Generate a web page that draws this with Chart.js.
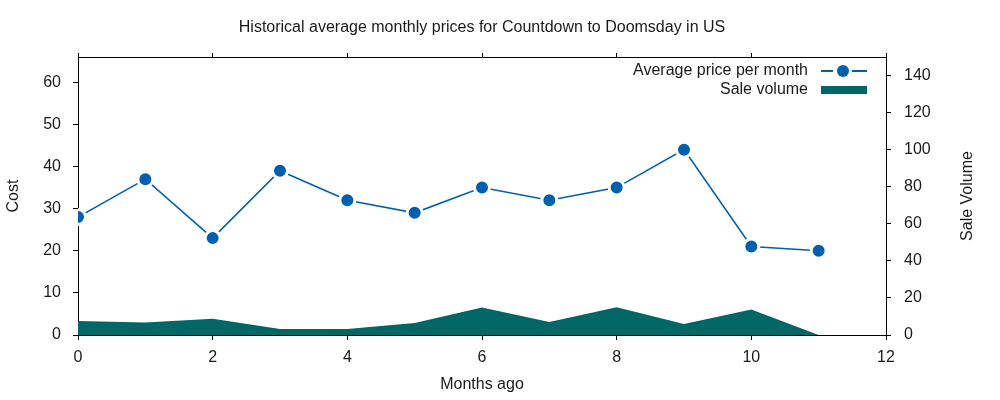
<!DOCTYPE html>
<html>

<head>
  <title>Countdown to Doomsday prices</title>
  <script src="https://cdn.jsdelivr.net/npm/chart.js"></script>
  <style type="text/css">
    html, body {
      margin: 0;
      padding: 0;
      background: #fff;
    }
    .chart-box {
      position: relative;
      width: 1000px;
      height: 400px;
    }
  </style>
</head>

<body>
  <div class="chart-box">
    <canvas id="myChart"></canvas>
  </div>

  <script>
    const monthsAgo = [0, 1, 2, 3, 4, 5, 6, 7, 8, 9, 10, 11];
    const avgPrice = [28, 37, 23, 39, 32, 29, 35, 32, 35, 44, 21, 20];
    const saleVolume = [7.5, 6.8, 8.8, 3.2, 3.2, 6.5, 14.9, 7, 15, 5.9, 13.8, 0];
    const xTicks = [0, 2, 4, 6, 8, 10, 12];
    const costTicks = [0, 10, 20, 30, 40, 50, 60];
    const volumeTicks = [0, 20, 40, 60, 80, 100, 120, 140];

    const chartTitle = 'Historical average monthly prices for Countdown to Doomsday in US';
    const lineColor = '#0060ad';
    const areaColor = '#006666';
    const textColor = '#1a1a1a';
    const fontFamily = '"Liberation Sans", Arial, sans-serif';

    Chart.defaults.font.family = fontFamily;
    Chart.defaults.font.size = 16;
    Chart.defaults.color = textColor;

    // title centred on the plot, right axis title (bottom-to-top), legend inside the plot
    const extras = {
      id: 'extras',
      afterDraw(chart) {
        const ctx = chart.ctx;
        const area = chart.chartArea;
        ctx.save();
        ctx.fillStyle = textColor;
        ctx.font = '16px ' + fontFamily;
        ctx.textAlign = 'center';
        ctx.textBaseline = 'middle';
        ctx.fillText(chartTitle, (area.left + area.right) / 2, 28);

        ctx.save();
        ctx.translate(968, (area.top + area.bottom) / 2);
        ctx.rotate(-Math.PI / 2);
        ctx.fillText('Sale Volume', 0, 0);
        ctx.restore();

        const textRight = area.right - 78;
        const sx0 = area.right - 65;
        const sx1 = area.right - 19;
        const y1 = area.top + 14;
        const y2 = area.top + 33;
        ctx.textAlign = 'right';
        ctx.fillText('Average price per month', textRight, y1);
        ctx.fillText('Sale volume', textRight, y2);

        const mid = (sx0 + sx1) / 2;
        ctx.strokeStyle = lineColor;
        ctx.lineWidth = 1.8;
        ctx.beginPath();
        ctx.moveTo(sx0, y1);
        ctx.lineTo(mid - 11, y1);
        ctx.moveTo(mid + 8, y1);
        ctx.lineTo(sx1, y1);
        ctx.stroke();
        ctx.fillStyle = lineColor;
        ctx.beginPath();
        ctx.arc(mid - 1, y1, 6, 0, Math.PI * 2);
        ctx.fill();

        ctx.fillStyle = areaColor;
        ctx.fillRect(sx0, y2 - 4, sx1 - sx0, 8);
        ctx.restore();
      }
    };

    const axisGrid = {
      drawOnChartArea: false,
      drawTicks: true,
      tickLength: 5,
      color: '#000'
    };
    const axisBorder = { display: true, color: '#000', width: 1 };

    var ctx = document.getElementById('myChart').getContext('2d');
    var myChart = new Chart(ctx, {
      type: 'line',
      data: {
        datasets: [{
          label: 'Average price per month',
          data: monthsAgo.map((m, i) => ({ x: m, y: avgPrice[i] })),
          yAxisID: 'y',
          xAxisID: 'x',
          borderColor: lineColor,
          borderWidth: 1.6,
          backgroundColor: lineColor,
          pointRadius: 7.5,
          pointHoverRadius: 7.5,
          pointBorderColor: '#fff',
          pointBorderWidth: 3,
          pointBackgroundColor: lineColor,
          tension: 0,
          fill: false,
          order: 0
        }, {
          label: 'Sale volume',
          data: monthsAgo.map((m, i) => ({ x: m, y: saleVolume[i] })),
          yAxisID: 'y1',
          xAxisID: 'x',
          borderWidth: 0,
          borderColor: areaColor,
          backgroundColor: areaColor,
          pointRadius: 0,
          tension: 0,
          fill: 'origin',
          order: 1
        }]
      },
      options: {
        responsive: true,
        maintainAspectRatio: false,
        animation: false,
        layout: { padding: { top: 53 } },
        plugins: {
          legend: { display: false },
          tooltip: { enabled: false },
          title: { display: false }
        },
        scales: {
          x: {
            type: 'linear',
            position: 'bottom',
            min: 0,
            max: 12,
            afterBuildTicks: (scale) => { scale.ticks = xTicks.map(v => ({ value: v })); },
            ticks: { padding: 8, color: textColor },
            grid: axisGrid,
            border: axisBorder,
            title: { display: true, text: 'Months ago', padding: { top: 4, bottom: 6 }, color: textColor },
            afterFit: (scale) => { scale.height = 65; }
          },
          x2: {
            type: 'linear',
            position: 'top',
            min: 0,
            max: 12,
            afterBuildTicks: (scale) => { scale.ticks = xTicks.map(v => ({ value: v })); },
            ticks: { display: false },
            grid: Object.assign({}, axisGrid, { tickLength: 4 }),
            border: axisBorder,
            afterFit: (scale) => { scale.height = 4; }
          },
          y: {
            position: 'left',
            min: 0,
            max: 66,
            afterBuildTicks: (scale) => { scale.ticks = costTicks.map(v => ({ value: v })); },
            ticks: { padding: 12, color: textColor },
            grid: axisGrid,
            border: axisBorder,
            title: { display: true, text: 'Cost', padding: { top: 4, bottom: 4 }, color: textColor },
            afterFit: (scale) => { scale.width = 78; }
          },
          y1: {
            position: 'right',
            min: 0,
            max: 150,
            afterBuildTicks: (scale) => { scale.ticks = volumeTicks.map(v => ({ value: v })); },
            ticks: { padding: 13, color: textColor },
            grid: axisGrid,
            border: axisBorder,
            afterFit: (scale) => { scale.width = 114; }
          }
        }
      },
      plugins: [extras]
    });
  </script>
</body>

</html>
